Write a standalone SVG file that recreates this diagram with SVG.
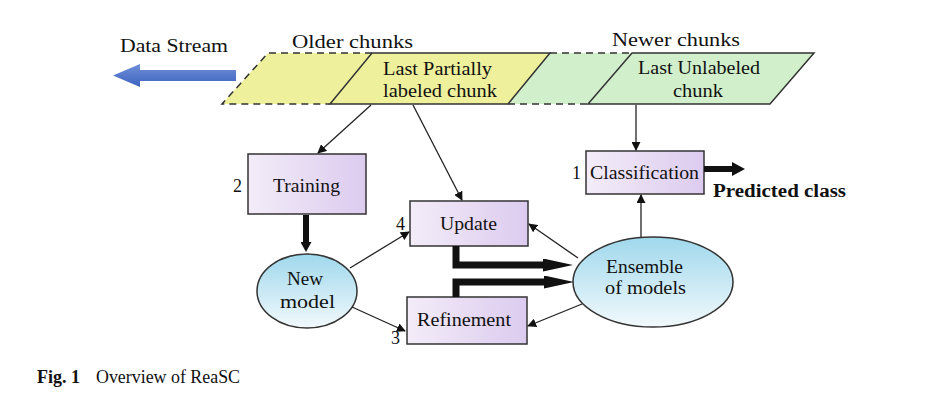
<svg xmlns="http://www.w3.org/2000/svg" width="927" height="408" viewBox="0 0 927 408">
<defs>
<linearGradient id="boxg" x1="0" y1="0" x2="1" y2="0">
<stop offset="0" stop-color="#f3ecf8"/><stop offset="1" stop-color="#dccbef"/>
</linearGradient>
<linearGradient id="ellg" x1="0" y1="0" x2="0" y2="1">
<stop offset="0" stop-color="#9fd8ec"/><stop offset="1" stop-color="#f2f9fc"/>
</linearGradient>
<linearGradient id="bluea" x1="0" y1="0" x2="0" y2="1">
<stop offset="0" stop-color="#6f8fd8"/><stop offset="1" stop-color="#3d63c0"/>
</linearGradient>
<marker id="ah" viewBox="0 0 10 10" refX="9" refY="5" markerWidth="9" markerHeight="9" markerUnits="userSpaceOnUse" orient="auto">
<path d="M0,0 L10,5 L0,10 z" fill="#111"/>
</marker>
<marker id="ahb" viewBox="0 0 13 14" refX="2" refY="7" markerWidth="13" markerHeight="14" markerUnits="userSpaceOnUse" orient="auto">
<path d="M0,0 L13,7 L0,14 z" fill="#111"/>
</marker>
<marker id="ahl" viewBox="0 0 30 13" refX="2" refY="6.5" markerWidth="30" markerHeight="13" markerUnits="userSpaceOnUse" orient="auto">
<path d="M0,0 L30,6.5 L0,13 z" fill="#111"/>
</marker>
<marker id="ahs" viewBox="0 0 10 11" refX="2" refY="5.5" markerWidth="10" markerHeight="11" markerUnits="userSpaceOnUse" orient="auto">
<path d="M0,0 L10,5.5 L0,11 z" fill="#111"/>
</marker>
</defs>
<style>
text{font-family:"Liberation Serif","Times New Roman",serif;fill:#111;font-size:18px;}
.box{fill:url(#boxg);stroke:#333;stroke-width:1.5;}
.ell{fill:url(#ellg);stroke:#333;stroke-width:1.5;}
.ln{stroke:#222;stroke-width:1.3;fill:none;marker-end:url(#ah);}
.thick{stroke:#111;stroke-width:7;fill:none;}
.dash{stroke:#333;stroke-width:1.5;stroke-dasharray:7,5;fill:none;}
</style>
<rect width="927" height="408" fill="#fff"/>

<g id="stream">
<path d="M140,70 L236,70 L236,81 L140,81 L140,87 L113,75.5 L140,64 Z" fill="url(#bluea)"/>
<text x="120" y="52" textLength="108" lengthAdjust="spacingAndGlyphs">Data Stream</text>
<text x="292" y="48" textLength="121" lengthAdjust="spacingAndGlyphs">Older chunks</text>
<text x="612" y="46" textLength="128" lengthAdjust="spacingAndGlyphs">Newer chunks</text>
</g>

<g id="band">
<polygon points="268,53 372,53 330,104 222,104" fill="#eef09c"/>
<polygon points="550,53 632,53 588,104 508,104" fill="#d2efcb"/>
<path class="dash" d="M372,53 L268,53 L222,104 L330,104"/>
<path class="dash" d="M550,53 L632,53 M508,104 L588,104"/>
</g>

<g id="partial">
<polygon points="372,53 550,53 508,104 330,104" fill="#eef09c" stroke="#333" stroke-width="1.5"/>
<text x="383" y="75" textLength="109" lengthAdjust="spacingAndGlyphs">Last Partially</text>
<text x="383" y="97" textLength="114" lengthAdjust="spacingAndGlyphs">labeled chunk</text>
</g>

<g id="unlabeled">
<polygon points="632,53 814,53 770,104 588,104" fill="#d2efcb" stroke="#333" stroke-width="1.5"/>
<text x="638" y="74" textLength="122" lengthAdjust="spacingAndGlyphs">Last Unlabeled</text>
<text x="673" y="97" textLength="50" lengthAdjust="spacingAndGlyphs">chunk</text>
</g>

<g id="training">
<rect class="box" x="248" y="154" width="118" height="60"/>
<text x="273" y="192" textLength="67" lengthAdjust="spacingAndGlyphs">Training</text>
<text x="233" y="192">2</text>
</g>

<g id="update">
<rect class="box" x="410" y="201" width="118" height="45"/>
<text x="440" y="230" textLength="57" lengthAdjust="spacingAndGlyphs">Update</text>
<text x="396" y="230">4</text>
</g>

<g id="refinement">
<rect class="box" x="407" y="297" width="120" height="47"/>
<text x="417" y="326" textLength="94" lengthAdjust="spacingAndGlyphs">Refinement</text>
<text x="391" y="344">3</text>
</g>

<g id="classification">
<rect class="box" x="586" y="151" width="118" height="43"/>
<text x="590" y="179" textLength="109" lengthAdjust="spacingAndGlyphs">Classification</text>
<text x="572" y="179">1</text>
</g>

<g id="newmodel">
<ellipse class="ell" cx="307" cy="291" rx="50" ry="37"/>
<text x="287" y="285" textLength="36" lengthAdjust="spacingAndGlyphs">New</text>
<text x="280" y="308" textLength="55" lengthAdjust="spacingAndGlyphs">model</text>
</g>

<g id="ensemble">
<ellipse class="ell" cx="653" cy="282" rx="80" ry="45"/>
<text x="606" y="273" textLength="77" lengthAdjust="spacingAndGlyphs">Ensemble</text>
<text x="605" y="294" textLength="81" lengthAdjust="spacingAndGlyphs">of models</text>
</g>

<g id="predicted">
<text x="713" y="197" textLength="133" lengthAdjust="spacingAndGlyphs" style="font-weight:bold">Predicted class</text>
</g>

<g id="connectors">
<line class="ln" x1="371" y1="105" x2="318" y2="153"/>
<line class="ln" x1="413" y1="105" x2="462" y2="200"/>
<line class="ln" x1="636" y1="105" x2="636" y2="150"/>
<line class="ln" x1="350" y1="268" x2="409" y2="232"/>
<line class="ln" x1="352" y1="307" x2="405" y2="331"/>
<line class="ln" x1="578" y1="258" x2="529" y2="224"/>
<line class="ln" x1="582" y1="304" x2="528" y2="326"/>
<line class="ln" x1="641" y1="237" x2="641" y2="195"/>
<path class="thick" d="M306,215 L306,244" style="stroke-width:6" marker-end="url(#ahs)"/>
<path class="thick" d="M704,169 L734,169" style="stroke-width:6" marker-end="url(#ahb)"/>
<path class="thick" d="M456,246 L456,265 L545,265" marker-end="url(#ahl)"/>
<path class="thick" d="M456,297 L456,282 L546,282" marker-end="url(#ahl)"/>
</g>

<g id="caption">
<text x="37" y="383" textLength="43" lengthAdjust="spacingAndGlyphs" style="font-weight:bold">Fig. 1</text>
<text x="96" y="383" textLength="144" lengthAdjust="spacingAndGlyphs">Overview of ReaSC</text>
</g>
</svg>
